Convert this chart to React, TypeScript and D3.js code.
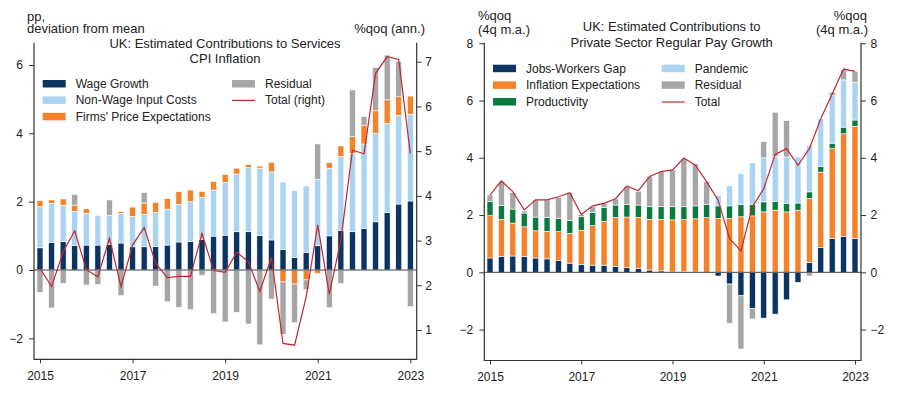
import * as d3 from "d3";
import { useRef, useEffect } from "react";

// quarters shared by both panels
const quarters = [
  "2015 Q1", "2015 Q2", "2015 Q3", "2015 Q4",
  "2016 Q1", "2016 Q2", "2016 Q3", "2016 Q4",
  "2017 Q1", "2017 Q2", "2017 Q3", "2017 Q4",
  "2018 Q1", "2018 Q2", "2018 Q3", "2018 Q4",
  "2019 Q1", "2019 Q2", "2019 Q3", "2019 Q4",
  "2020 Q1", "2020 Q2", "2020 Q3", "2020 Q4",
  "2021 Q1", "2021 Q2", "2021 Q3", "2021 Q4",
  "2022 Q1", "2022 Q2", "2022 Q3", "2022 Q4",
  "2023 Q1",
];
const yearTicks = ["2015 Q1", "2017 Q1", "2019 Q1", "2021 Q1", "2023 Q1"];

// left panel: services CPI (pp, deviation from mean)
const wageGrowth = [0.65, 0.81, 0.83, 0.72, 0.73, 0.73, 0.75, 0.79, 0.68, 0.68, 0.69, 0.73, 0.82, 0.83, 0.9, 0.99, 1.02, 1.12, 1.12, 1.01, 0.88, 0.6, 0.37, 0.52, 0.71, 1.0, 1.15, 1.12, 1.22, 1.41, 1.68, 1.93, 2.02];
const nonWageCosts = [1.2, 1.14, 1.06, 0.99, 0.93, 0.87, 0.84, 0.87, 0.89, 0.95, 1.0, 1.05, 1.1, 1.17, 1.22, 1.35, 1.54, 1.69, 1.88, 1.97, 1.99, 1.97, 1.95, 1.94, 1.94, 1.98, 2.17, 2.29, 2.47, 2.59, 2.61, 2.59, 2.54];
const priceExpectations = [0.18, 0.1, 0.19, 0.19, 0.13, 0, 0, 0.05, 0.27, 0.33, 0.29, 0.31, 0.37, 0.34, 0.18, 0.25, 0.24, 0.17, 0.09, 0.06, 0.28, -0.35, -0.41, -0.29, -0.1, 0.16, 0.31, 0.49, 0.55, 0.66, 0.69, 0.55, 0.53];
const cpiResidual = [-0.66, -1.11, -0.39, 0.31, -0.44, -0.42, 0.46, -0.75, 0, 0.31, -0.47, -0.93, -1.09, -1.16, -0.16, -1.28, -1.52, -1.24, -1.58, -2.19, -0.85, -1.53, -1.13, -0.28, 1.04, -1.1, -0.4, 1.37, 0.25, 1.27, 1.31, 1.03, -1.07];
const cpiTotal = [2.38, 1.97, 2.75, 3.22, 2.35, 2.19, 3.05, 1.97, 2.9, 3.29, 2.49, 2.17, 2.2, 2.2, 3.16, 2.33, 2.29, 2.74, 2.53, 1.86, 2.62, 0.7, 0.66, 1.74, 3.35, 1.8, 3.01, 5.02, 4.94, 6.74, 7.11, 7.05, 4.95];

// right panel: private sector regular pay (%qoq, 4q m.a.)
const jobsWorkersGap = [0.5, 0.55, 0.57, 0.55, 0.5, 0.47, 0.41, 0.32, 0.28, 0.25, 0.25, 0.21, 0.16, 0.14, 0.08, 0.05, 0.01, 0.02, 0.01, 0, -0.13, -0.41, -0.82, -1.26, -1.6, -1.46, -0.96, -0.35, 0.34, 0.87, 1.18, 1.26, 1.18];
const inflationExpectations = [1.48, 1.3, 1.15, 1.04, 0.95, 0.96, 1.01, 1.04, 1.19, 1.38, 1.53, 1.7, 1.77, 1.78, 1.77, 1.8, 1.82, 1.82, 1.86, 1.91, 1.88, 1.88, 1.94, 1.97, 2.11, 2.17, 2.11, 2.17, 2.24, 2.63, 3.14, 3.58, 3.92];
const productivity = [0.49, 0.48, 0.49, 0.48, 0.48, 0.49, 0.47, 0.45, 0.47, 0.46, 0.48, 0.44, 0.44, 0.43, 0.44, 0.44, 0.46, 0.45, 0.45, 0.46, 0.44, 0.44, 0.43, 0.4, 0.35, 0.31, 0.29, 0.25, 0.23, 0.2, 0.19, 0.23, 0.22];
const pandemic = [0, 0, 0, 0, 0, 0, 0, 0, 0, 0, 0, 0, 0, 0, 0, 0, 0, 0, 0, 0, 0.37, 0.7, 1.08, 1.45, 1.54, 1.57, 1.63, 1.61, 1.62, 1.66, 1.66, 1.65, 1.32];
const payResidual = [0.23, 0.84, 0.57, 0.07, 0.6, 0.61, 0.73, 0.97, 0.08, 0.2, 0.15, 0.21, 0.63, 0.47, 1.06, 1.23, 1.29, 1.68, 1.47, 0.79, 0, -1.37, -1.86, -0.37, 0.57, 1.54, 1.27, 0, -0.13, 0, 0.12, 0.35, 0.38];
const payTotal = [2.7, 3.19, 2.82, 2.18, 2.53, 2.53, 2.64, 2.78, 2.02, 2.32, 2.41, 2.57, 3.02, 2.85, 3.35, 3.52, 3.58, 3.99, 3.74, 3.16, 2.52, 1.18, 0.75, 2.29, 2.92, 4.12, 4.32, 3.74, 4.32, 5.36, 6.23, 7.1, 7.02];

const NAVY = "#0b3463";
const LIGHT = "#a9d3f1";
const ORANGE = "#f5822a";
const GREEN = "#0a7a3f";
const GREY = "#a6a6a6";
const RED = "#c0282d";
const AXIS = "#333";
const FONT = "'Liberation Sans', Arial, sans-serif";

type Row = { q: string; [k: string]: number | string };

interface PanelProps {
  keys: string[];
  series: number[][];
  colors: string[];
  total: number[];
  yLeft: d3.ScaleLinear<number, number>;
  yRight: d3.ScaleLinear<number, number>;
  totalScale: d3.ScaleLinear<number, number>;
  xRange: [number, number];
  axisLeftX: number;
  axisRightX: number;
  top: number;
  bottom: number;
  leftTicks: number[];
  rightTicks: number[];
  leftPad: number;
  rightPad: number;
}

const Panel = ({
  keys, series, colors, total, yLeft, yRight, totalScale, xRange,
  axisLeftX, axisRightX, top, bottom, leftTicks, rightTicks, leftPad, rightPad,
}: PanelProps) => {
  const gx = useRef<SVGGElement | null>(null);
  const gyl = useRef<SVGGElement | null>(null);
  const gyr = useRef<SVGGElement | null>(null);

  const x = d3.scalePoint<string>().domain(quarters).range(xRange);
  const barW = 6;

  const rows: Row[] = quarters.map((q, i) => {
    const r: Row = { q };
    keys.forEach((k, j) => (r[k] = series[j][i]));
    return r;
  });
  const stacked = d3
    .stack<Row>()
    .keys(keys)
    .value((d, k) => d[k] as number)
    .offset(d3.stackOffsetDiverging)(rows);

  const line = d3
    .line<number>()
    .x((_, i) => x(quarters[i])!)
    .y((d) => totalScale(d));

  useEffect(() => {
    const style = (sel: d3.Selection<SVGGElement, unknown, null, undefined>) => {
      sel.select(".domain").remove();
      sel.selectAll("line").attr("stroke", AXIS);
      sel.selectAll("text").attr("fill", "#222").style("font-size", "12px").style("font-family", FONT);
    };
    if (gx.current) {
      const s = d3.select(gx.current);
      s.call(
        d3.axisBottom(x).tickValues(yearTicks).tickSize(4).tickPadding(8).tickFormat((d) => d.slice(0, 4))
      );
      style(s);
    }
    if (gyl.current) {
      const s = d3.select(gyl.current);
      s.call(d3.axisLeft(yLeft).tickValues(leftTicks).tickSize(5).tickPadding(leftPad));
      style(s);
    }
    if (gyr.current) {
      const s = d3.select(gyr.current);
      s.call(d3.axisRight(yRight).tickValues(rightTicks).tickSize(5).tickPadding(rightPad));
      style(s);
    }
  }, [x, yLeft, yRight, leftTicks, rightTicks, leftPad, rightPad]);

  return (
    <g>
      {stacked.map((layer, j) => (
        <g key={layer.key} fill={colors[j]}>
          {layer.map((d, i) => {
            const y0 = yLeft(d[0]);
            const y1 = yLeft(d[1]);
            if (Math.abs(y0 - y1) < 0.01) return null;
            return (
              <rect
                key={i}
                x={x(quarters[i])! - barW / 2}
                y={Math.min(y0, y1)}
                width={barW}
                height={Math.abs(y0 - y1)}
                stroke="#fff"
                strokeWidth={0.6}
              />
            );
          })}
        </g>
      ))}
      <line x1={axisLeftX} x2={axisRightX} y1={yLeft(0)} y2={yLeft(0)} stroke="#444" strokeWidth={1} />
      <path d={line(total) || ""} fill="none" stroke={RED} strokeWidth={1.2} />
      <path
        d={`M${axisLeftX},${top}V${bottom}H${axisRightX}V${top}`}
        fill="none"
        stroke={AXIS}
        strokeWidth={1.2}
      />
      <g ref={gx} transform={`translate(0,${bottom})`} />
      <g ref={gyl} transform={`translate(${axisLeftX},0)`} />
      <g ref={gyr} transform={`translate(${axisRightX},0)`} />
    </g>
  );
};

const Legend = ({
  items,
  x,
  y,
  step,
}: {
  items: { label: string; color: string; line?: boolean }[];
  x: number;
  y: number;
  step: number;
}) => (
  <g fontSize={12} fill="#222">
    {items.map((it, i) => (
      <g key={it.label} transform={`translate(${x},${y + i * step})`}>
        {it.line ? (
          <line x1={0} x2={23} y1={-4} y2={-4} stroke={it.color} strokeWidth={1.2} />
        ) : (
          <rect x={0} y={-8} width={23} height={7.5} fill={it.color} />
        )}
        <text x={33}>{it.label}</text>
      </g>
    ))}
  </g>
);

export default function App() {
  const cpiLeft = d3.scaleLinear().domain([-2.613, 6.652]).range([359.3, 42.7]);
  const cpiRight = d3.scaleLinear().domain([0.345, 7.425]).range([359.3, 42.7]);
  const payLeft = d3.scaleLinear().domain([-3.08, 8.02]).range([360.5, 42.7]);

  return (
    <svg
      width={903}
      height={407}
      style={{ position: "absolute", left: 0, top: 0, background: "#fff" }}
      fontFamily={FONT}
    >
      {/* left panel */}
      <g fontSize={13} fill="#222">
        <text x={27} y={20.5}>pp,</text>
        <text x={27} y={33.3}>deviation from mean</text>
        <text x={425} y={33.3} textAnchor="end">%qoq (ann.)</text>
        <text x={225} y={48.3} textAnchor="middle">UK: Estimated Contributions to Services</text>
        <text x={225} y={63.3} textAnchor="middle">CPI Inflation</text>
      </g>
      <Panel
        keys={["wage", "nonWage", "firms", "residual"]}
        series={[wageGrowth, nonWageCosts, priceExpectations, cpiResidual]}
        colors={[NAVY, LIGHT, ORANGE, GREY]}
        total={cpiTotal}
        yLeft={cpiLeft}
        yRight={cpiRight}
        totalScale={cpiRight}
        xRange={[40, 410.3]}
        axisLeftX={34}
        axisRightX={416.7}
        top={42.7}
        bottom={359.3}
        leftTicks={[-2, 0, 2, 4, 6]}
        rightTicks={[1, 2, 3, 4, 5, 6, 7]}
        leftPad={6}
        rightPad={3.5}
      />
      <Legend
        x={42.7}
        y={88}
        step={16.4}
        items={[
          { label: "Wage Growth", color: NAVY },
          { label: "Non-Wage Input Costs", color: LIGHT },
          { label: "Firms' Price Expectations", color: ORANGE },
        ]}
      />
      <Legend
        x={232}
        y={88}
        step={16.4}
        items={[
          { label: "Residual", color: GREY },
          { label: "Total (right)", color: RED, line: true },
        ]}
      />

      {/* right panel */}
      <g fontSize={13} fill="#222">
        <text x={478} y={20}>%qoq</text>
        <text x={478} y={34.3}>(4q m.a.)</text>
        <text x={867} y={20} textAnchor="end">%qoq</text>
        <text x={868} y={34.3} textAnchor="end">(4q m.a.)</text>
        <text x={671.7} y={31} textAnchor="middle">UK: Estimated Contributions to</text>
        <text x={671.7} y={46.7} textAnchor="middle">Private Sector Regular Pay Growth</text>
      </g>
      <Panel
        keys={["jobs", "infl", "prod", "pandemic", "residual"]}
        series={[jobsWorkersGap, inflationExpectations, productivity, pandemic, payResidual]}
        colors={[NAVY, ORANGE, GREEN, LIGHT, GREY]}
        total={payTotal}
        yLeft={payLeft}
        yRight={payLeft}
        totalScale={payLeft}
        xRange={[490, 855]}
        axisLeftX={484.3}
        axisRightX={861}
        top={42.7}
        bottom={360.5}
        leftTicks={[-2, 0, 2, 4, 6, 8]}
        rightTicks={[-2, 0, 2, 4, 6, 8]}
        leftPad={6}
        rightPad={4.5}
      />
      <Legend
        x={493}
        y={72.7}
        step={16.65}
        items={[
          { label: "Jobs-Workers Gap", color: NAVY },
          { label: "Inflation Expectations", color: ORANGE },
          { label: "Productivity", color: GREEN },
        ]}
      />
      <Legend
        x={661.7}
        y={72.7}
        step={16.65}
        items={[
          { label: "Pandemic", color: LIGHT },
          { label: "Residual", color: GREY },
          { label: "Total", color: RED, line: true },
        ]}
      />
    </svg>
  );
}
